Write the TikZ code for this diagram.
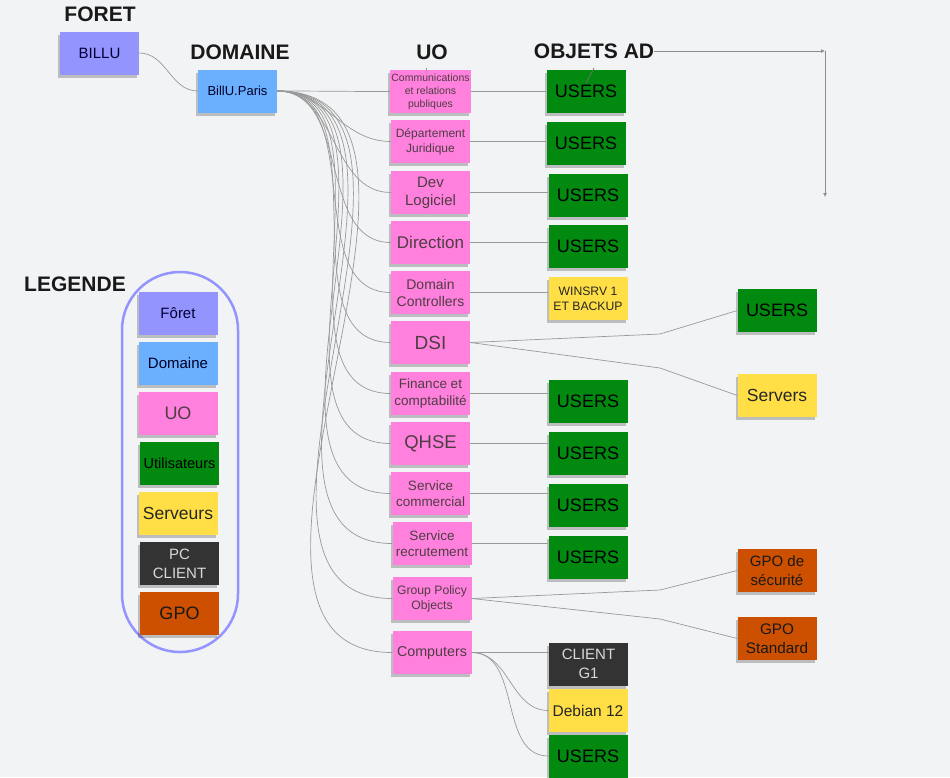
\documentclass[tikz,border=0pt]{standalone}
\usepackage{fontspec}
\setmainfont{Liberation Sans}
\usetikzlibrary{arrows.meta}
\usetikzlibrary{shadows}

\definecolor{bgcol}{HTML}{F2F3F5}
\definecolor{foretcol}{HTML}{9494FF}
\definecolor{domcol}{HTML}{6AB0FF}
\definecolor{uocol}{HTML}{FF80DD}
\definecolor{usercol}{HTML}{02890F}
\definecolor{srvcol}{HTML}{FFDF45}
\definecolor{pccol}{HTML}{333333}
\definecolor{gpocol}{HTML}{CC5000}
\definecolor{linkcol}{HTML}{999999}

\newcommand{\fsz}[2]{\fontsize{#1}{#2}\selectfont}

\begin{document}
\begin{tikzpicture}[x=1pt, y=-1pt,
	note/.style={minimum width=79pt, minimum height=43pt, inner sep=1pt, align=center,
		drop shadow={shadow xshift=-2pt, shadow yshift=-3pt, opacity=0.22, fill=black}},
	foret/.style={note, fill=foretcol, text=black!80!blue},
	dom/.style={note, fill=domcol, text=black!85!blue},
	uo/.style={note, fill=uocol, text=black!80!magenta},
	users/.style={note, fill=usercol, text=black, font=\fsz{18}{21}},
	srv/.style={note, fill=srvcol, text=black!85},
	pc/.style={note, fill=pccol, text=black!15},
	gpo/.style={note, fill=gpocol, text=black!90},
	title/.style={inner sep=0pt, font=\bfseries\fsz{21}{24}, text=black!90},
	link/.style={draw=linkcol, line width=0.7pt},
	tip/.style={-{Latex[length=4pt,width=4pt]}, draw=black!45, line width=0.7pt}]

	%background
	\fill[bgcol] (0,0) rectangle (950,777);

	%headings
	\node[title] (hforet) at (100,14.5) {FORET};
	\node[title] (hdom) at (240,52.5) {DOMAINE};
	\node[title] (huo) at (432,52.5) {UO};
	\node[title] (hobj) at (594,51) {OBJETS AD};
	\node[title] (hleg) at (75,284.5) {LEGENDE};

	%foret and domaine
	\node[foret, font=\fsz{15}{18}] (billu) at (99.5,53) {BILLU};
	\node[dom, font=\fsz{13}{16}] (paris) at (237.5,91) {BillU.Paris};

	%unites d'organisation
	\node[uo, font=\fsz{10.5}{13}] (comm) at (430.5,91.5) {Communications\\et relations\\publiques};
	\node[uo, font=\fsz{12}{15}] (jur) at (430.5,141.5) {Département\\Juridique};
	\node[uo, font=\fsz{15}{18}] (dev) at (430.5,192.5) {Dev\\Logiciel};
	\node[uo, font=\fsz{17}{20}] (dir) at (430.5,242.5) {Direction};
	\node[uo, font=\fsz{14}{17}] (dc) at (430.5,292.5) {Domain\\Controllers};
	\node[uo, font=\fsz{19}{22}] (dsi) at (430.5,342.5) {DSI};
	\node[uo, font=\fsz{13.5}{17}] (fin) at (430.5,393.5) {Finance et\\comptabilité};
	\node[uo, font=\fsz{18.5}{21}] (qhse) at (430.5,443.5) {QHSE};
	\node[uo, font=\fsz{13.5}{16}] (comr) at (430.5,493.5) {Service\\commercial};
	\node[uo, font=\fsz{13.5}{16}] (recr) at (432,543.5) {Service\\recrutement};
	\node[uo, font=\fsz{12.2}{15}] (gpos) at (432,598.5) {Group Policy\\Objects};
	\node[uo, font=\fsz{14.3}{17}] (cptr) at (432,652.5) {Computers};

	%objets AD
	\node[users] (ucomm) at (586,91.5) {USERS};
	\node[users] (ujur) at (586,143.5) {USERS};
	\node[users] (udev) at (588,195.5) {USERS};
	\node[users] (udir) at (588,246.5) {USERS};
	\node[srv, font=\fsz{12.2}{15}] (winsrv) at (588,298.5) {WINSRV 1\\ET BACKUP};
	\node[users] (ufin) at (588,401.5) {USERS};
	\node[users] (uqhse) at (588,453.5) {USERS};
	\node[users] (ucomr) at (588,505.5) {USERS};
	\node[users] (urecr) at (588,557.5) {USERS};
	\node[pc, font=\fsz{15}{19}] (client) at (588.5,664) {CLIENT\\G1};
	\node[srv, font=\fsz{15.5}{18}] (debian) at (588,710.5) {Debian 12};
	\node[users] (ucptr) at (588,756) {USERS};
	\node[users] (udsi) at (777,310.5) {USERS};
	\node[srv, font=\fsz{17.5}{20}] (servers) at (777,395.5) {Servers};
	\node[gpo, font=\fsz{15}{19}] (gposec) at (777,570.5) {GPO de\\sécurité};
	\node[gpo, font=\fsz{15.3}{19}] (gpostd) at (777,638.5) {GPO\\Standard};

	%legende
	\draw[foretcol, line width=2.5pt, rounded corners=58pt] (122,272) rectangle (238,652);
	\node[foret, font=\fsz{15}{18}] (lforet) at (178,313.5) {Fôret};
	\node[dom, font=\fsz{15}{18}] (ldom) at (178,363.5) {Domaine};
	\node[uo, font=\fsz{18}{21}] (luo) at (178,413.5) {UO};
	\node[users, font=\fsz{14.5}{17}] (luser) at (179.5,463.5) {Utilisateurs};
	\node[srv, font=\fsz{17.5}{20}] (lsrv) at (178,513.5) {Serveurs};
	\node[pc, font=\fsz{15}{19}] (lpc) at (179.5,563.5) {PC\\CLIENT};
	\node[gpo, font=\fsz{18}{21}] (lgpo) at (179.5,613.5) {GPO};

	%liens foret -> domaine -> UO
	\draw[link] (billu.east) to[out=0, in=180] (paris.west);
	\foreach \u in {comm,jur,dev,dir,dc,dsi,fin,qhse,comr,recr,gpos,cptr}
		\draw[link] (paris.east) to[out=0, in=180] (\u.west);

	%liens UO -> objets
	\foreach \u/\o in {comm/ucomm,jur/ujur,dev/udev,dir/udir,dc/winsrv,fin/ufin,qhse/uqhse,comr/ucomr,recr/urecr,cptr/client}
		\draw[link] (\u.east) -- (\o.west |- \u.east);
	\draw[link] (cptr.east) to[out=0, in=180] (debian.west);
	\draw[link] (cptr.east) to[out=0, in=180] (ucptr.west);

	%DSI et GPO
	\coordinate (kdsia) at (660,334);
	\coordinate (kdsib) at (660,368);
	\coordinate (kgpoa) at (660,590);
	\coordinate (kgpob) at (660,619);
	\draw[link] (dsi.east) -- (kdsia) -- (udsi.west);
	\draw[link] (dsi.east) -- (kdsib) -- (servers.west);
	\draw[link] (gpos.east) -- (kgpoa) -- (gposec.west);
	\draw[link] (gpos.east) -- (kgpob) -- (gpostd.west);

	%fleches du haut
	\coordinate (down) at (825,197);
	\coordinate (corner) at (hobj.east -| down);
	\draw[tip] (hobj.east) -- (corner);
	\draw[tip] (corner) -- (down);

	%petits traits
	\coordinate (suo) at (426,68);
	\coordinate (tuo) at (426,73);
	\coordinate (sobj) at (594,68);
	\coordinate (tobj) at (586,83);
	\draw[link] (suo) -- (tuo);
	\draw[black!55, line width=0.7pt] (sobj) -- (tobj);

\end{tikzpicture}
\end{document}
